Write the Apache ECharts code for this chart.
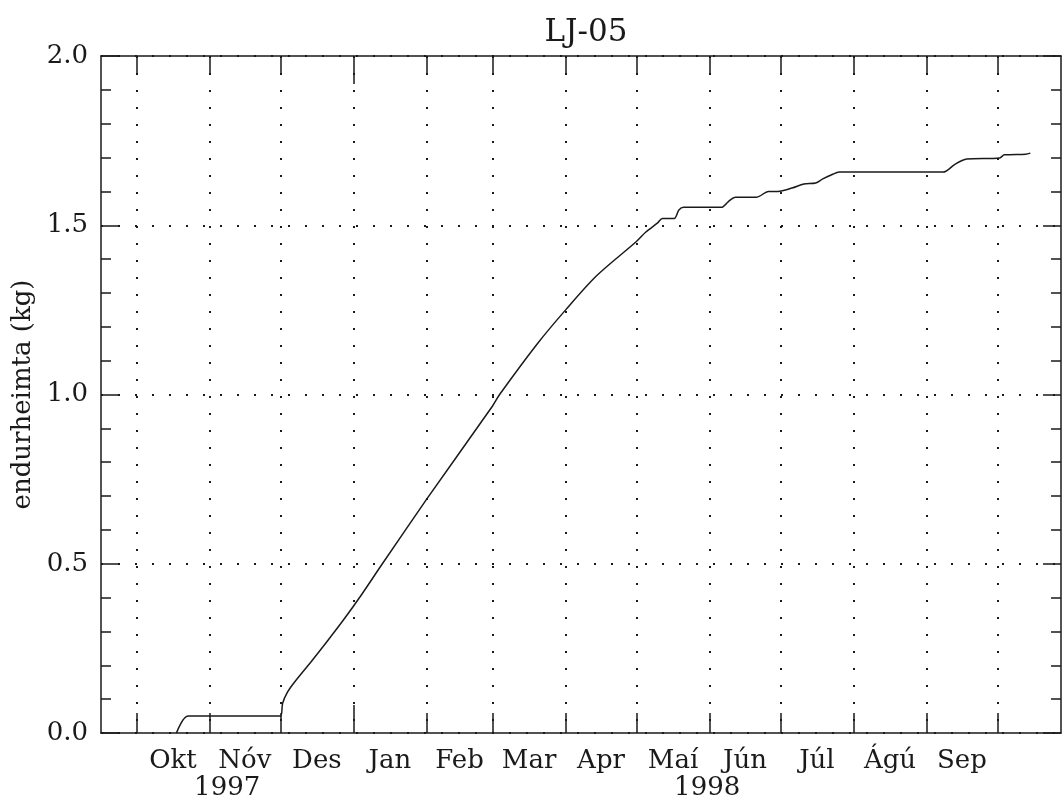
<!DOCTYPE html>
<html>
<head>
<meta charset="utf-8">
<title>LJ-05</title>
<script src="https://cdn.jsdelivr.net/npm/echarts@6/dist/echarts.min.js"></script>
<style>
  html, body { margin: 0; padding: 0; background: #fff; }
  #chart { width: 1062px; height: 804px; }
</style>
</head>
<body>
<div id="chart"></div>
<script>
// ---- data ----
const chartTitle = 'LJ-05';
const yAxisName = 'endurheimta (kg)';
const monthNames = ['Okt', 'Nóv', 'Des', 'Jan', 'Feb', 'Mar', 'Apr', 'Maí', 'Jún', 'Júl', 'Ágú', 'Sep'];
const monthStarts = ['1997-10-01', '1997-11-01', '1997-12-01', '1998-01-01', '1998-02-01', '1998-03-01',
  '1998-04-01', '1998-05-01', '1998-06-01', '1998-07-01', '1998-08-01', '1998-09-01', '1998-10-01'];
const yearNames = ['1997', '1998'];
const yearStarts = ['1998-01-01'];
const xRange = ['1997-09-16', '1998-10-28'];
const yRange = [0, 2];
const yStep = 0.5;

const dates = [
  '1997-10-18', '1997-10-23', '1997-12-01', '1997-12-02', '1997-12-04', '1997-12-07',
  '1997-12-14', '1997-12-21', '1997-12-28', '1998-01-04', '1998-01-13', '1998-02-01',
  '1998-03-01', '1998-03-04', '1998-03-20', '1998-04-01', '1998-04-14', '1998-05-01',
  '1998-05-05', '1998-05-10', '1998-05-12', '1998-05-17', '1998-05-19', '1998-05-21',
  '1998-06-06', '1998-06-09', '1998-06-12', '1998-06-21', '1998-06-26', '1998-06-30',
  '1998-07-06', '1998-07-11', '1998-07-16', '1998-07-19', '1998-07-23', '1998-07-26',
  '1998-09-08', '1998-09-13', '1998-09-18', '1998-10-02', '1998-10-04', '1998-10-13',
  '1998-10-15'
];
const recovery = [
  0.000, 0.050, 0.050, 0.088, 0.120, 0.150,
  0.210, 0.272, 0.336, 0.404, 0.497, 0.690,
  0.966, 1.000, 1.150, 1.250, 1.350, 1.452,
  1.480, 1.507, 1.520, 1.520, 1.545, 1.553,
  1.553, 1.570, 1.583, 1.583, 1.600, 1.600,
  1.610, 1.622, 1.625, 1.637, 1.650, 1.657,
  1.657, 1.680, 1.696, 1.699, 1.708, 1.710,
  1.713
];

// ---- helpers ----
const ts = s => { const p = s.split('-').map(Number); return Date.UTC(p[0], p[1] - 1, p[2]); };
const xMin = ts(xRange[0]);
const xMax = ts(xRange[1]);
const tickVals = monthStarts.map(ts);
const monthMids = monthNames.map((_, i) => (tickVals[i] + tickVals[i + 1]) / 2);
// year label sits under the visible part of its year
const yearMids = yearNames.map(y => {
  const a = Math.max(xMin, Date.UTC(+y, 0, 1));
  const b = Math.min(xMax, Date.UTC(+y + 1, 0, 1));
  return (a + b) / 2;
});
const yearTickVals = yearStarts.map(ts);
const seriesData = dates.map((d, i) => [ts(d), recovery[i]]);

const FONT = 'DejaVu Serif';
const INK = '#1a1a1a';
const dotted = { color: INK, width: 2, type: [2, 15] };
const frame = { show: true, lineStyle: { color: INK, width: 1.5 } };
const tickLine = { color: INK, width: 1.5 };

function nearestName(v, vals, names) {
  let best = 0;
  vals.forEach((x, i) => { if (Math.abs(x - v) < Math.abs(vals[best] - v)) best = i; });
  return names[best];
}

const xBase = { type: 'value', min: xMin, max: xMax, gridIndex: 0 };

const option = {
  animation: false,
  backgroundColor: '#fff',
  title: {
    text: chartTitle,
    left: 581, top: 12, textAlign: 'center',
    textStyle: { fontFamily: FONT, fontSize: 31, fontWeight: 'normal', color: INK }
  },
  grid: { left: 101, right: 1, top: 56, bottom: 71 },
  xAxis: [
    Object.assign({}, xBase, {
      position: 'bottom',
      axisLine: frame,
      axisTick: { show: true, inside: true, length: 20, customValues: tickVals, lineStyle: tickLine },
      splitLine: { show: true, lineStyle: dotted },
      axisLabel: {
        show: true, customValues: monthMids, margin: 15,
        fontFamily: FONT, fontSize: 26, color: INK,
        formatter: v => nearestName(v, monthMids, monthNames)
      }
    }),
    Object.assign({}, xBase, {
      position: 'bottom',
      axisLine: { show: false },
      axisTick: { show: true, inside: true, length: 28, customValues: yearTickVals, lineStyle: tickLine },
      splitLine: { show: false },
      axisLabel: {
        show: true, customValues: yearMids, margin: 42,
        fontFamily: FONT, fontSize: 26, color: INK,
        formatter: v => nearestName(v, yearMids, yearNames)
      }
    }),
    Object.assign({}, xBase, {
      position: 'top',
      axisLine: frame,
      axisTick: { show: true, inside: true, length: 19, customValues: tickVals, lineStyle: tickLine },
      splitLine: { show: false },
      axisLabel: { show: false }
    }),
    Object.assign({}, xBase, {
      position: 'top',
      axisLine: { show: false },
      axisTick: { show: true, inside: true, length: 28, customValues: yearTickVals, lineStyle: tickLine },
      splitLine: { show: false },
      axisLabel: { show: false }
    })
  ],
  yAxis: [
    {
      type: 'value', position: 'left', min: yRange[0], max: yRange[1], interval: yStep,
      name: yAxisName, nameLocation: 'middle', nameGap: 56,
      nameTextStyle: { fontFamily: FONT, fontSize: 26, color: INK },
      axisLine: frame,
      axisTick: { show: true, inside: true, length: 18, lineStyle: tickLine },
      minorTick: { show: true, splitNumber: 5, length: 10, lineStyle: tickLine },
      splitLine: { show: true, lineStyle: dotted },
      axisLabel: {
        margin: 13, fontFamily: FONT, fontSize: 26, color: INK,
        formatter: v => v.toFixed(1)
      }
    },
    {
      type: 'value', position: 'right', min: yRange[0], max: yRange[1], interval: yStep,
      axisLine: frame,
      axisTick: { show: true, inside: true, length: 18, lineStyle: tickLine },
      minorTick: { show: true, splitNumber: 5, length: 10, lineStyle: tickLine },
      splitLine: { show: false },
      axisLabel: { show: false }
    }
  ],
  series: [{
    type: 'line',
    xAxisIndex: 0, yAxisIndex: 0,
    data: seriesData,
    showSymbol: false,
    smooth: 0.3,
    lineStyle: { color: INK, width: 1.5 },
    z: 5
  }]
};

const chart = echarts.init(document.getElementById('chart'), null, { renderer: 'canvas' });
chart.setOption(option);
</script>
</body>
</html>
